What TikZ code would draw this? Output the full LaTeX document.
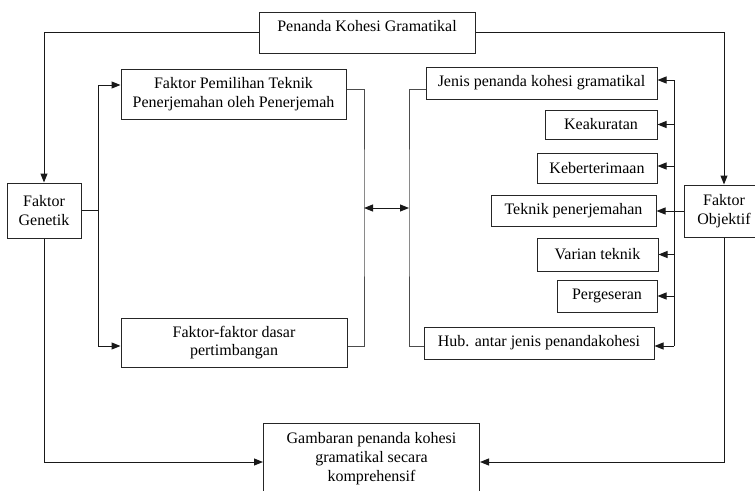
\documentclass[tikz,border=0pt]{standalone}
\usepackage{fontspec}
\setmainfont{Liberation Serif}
\usetikzlibrary{arrows.meta}
\begin{document}
\begin{tikzpicture}[x=1pt,y=-1pt,
  box/.style={draw=black!85, line width=1pt, rectangle, inner sep=2pt, align=center, font=\fontsize{16}{18.5}\selectfont, text=black},
  conn/.style={draw=black!90, line width=1pt},
  gconn/.style={draw=black!70, line width=1pt},
  arr/.style={conn, -{Triangle[length=9pt,width=7pt]}},
  darr/.style={conn, {Triangle[length=9pt,width=7pt]}-{Triangle[length=9pt,width=7pt]}}]
\useasboundingbox (0,0) rectangle (755,490);
% boxes
\node[box, minimum width=216, minimum height=41, text height=10pt, text depth=12pt] (pkg) at (367,32.5) {Penanda Kohesi Gramatikal};
\node[box, minimum width=74, minimum height=55] (gen) at (44,210.5) {Faktor\\Genetik};
\node[box, minimum width=225, minimum height=50] (fp) at (233.5,94) {Faktor Pemilihan Teknik\\Penerjemahan oleh Penerjemah};
\node[box, minimum width=226, minimum height=49] (fd) at (234,342.5) {Faktor-faktor dasar\\pertimbangan};
\node[box, minimum width=231, minimum height=32] (jenis) at (541.5,83) {Jenis penanda kohesi gramatikal};
\node[box, minimum width=112, minimum height=29] (keak) at (601,124.5) {Keakuratan};
\node[box, minimum width=120, minimum height=30] (keb) at (597,168) {Keberterimaan};
\node[box, minimum width=165, minimum height=31] (tek) at (573.5,210.5) {Teknik penerjemahan};
\node[box, minimum width=121, minimum height=33] (var) at (597.5,254.5) {Varian teknik};
\node[box, minimum width=100, minimum height=32] (perg) at (607,296) {Pergeseran};
\node[box, minimum width=230, minimum height=32] (hub) at (539,343) {Hub. antar jenis penandakohesi};
\node[box, minimum width=80, minimum height=52] (obj) at (724,211) {Faktor\\Objektif};
\node[box, anchor=north west, inner sep=0pt] (gam) at (263,423)
  {\parbox[t][80pt][t]{216pt}{\centering\vspace{9pt}Gambaran penanda kohesi\\[0.5pt]gramatikal secara\\[0.5pt]komprehensif}};
% coordinates
\coordinate (busL) at (98,210.5);
\coordinate (jL) at (364,208);
\coordinate (jR) at (409,208);
\coordinate (busR) at (674,80);
\coordinate (gy) at (0,462);
% top connectors
\draw[arr] (pkg.west) -| (gen.north);
\draw[arr] (pkg.east) -| (obj.north);
% left bus
\draw[conn] (gen.east) -- (busL);
\draw[arr] (busL) |- ([yshift=9pt]fp.west);
\draw[arr] (busL) |- ([yshift=-3.5pt]fd.west);
% left bracket
\draw[gconn] ([yshift=5pt]fp.east) -| (jL) |- ([yshift=-3.5pt]fd.east);
% right bracket
\draw[gconn] ([yshift=-6pt]jenis.west) -| (jR) |- ([yshift=-3pt]hub.west);
\draw[darr] (jL) -- (jR);
% right bus
\draw[conn] (busR) -- ([yshift=-3pt]busR |- hub.east);
\draw[arr] (busR) -- ([yshift=3pt]jenis.east);
\draw[arr] (busR |- keak.east) -- (keak.east);
\draw[arr] ([yshift=2pt]busR |- keb.east) -- ([yshift=2pt]keb.east);
\draw[arr] (busR |- var.east) -- (var.east);
\draw[arr] (busR |- perg.east) -- (perg.east);
\draw[arr] ([yshift=-3pt]busR |- hub.east) -- ([yshift=-3pt]hub.east);
\draw[arr] (obj.west) -- (obj.west -| tek.east);
% bottom connectors
\draw[arr] (gen.south) |- (gam.west |- gy);
\draw[arr] (obj.south) |- (gam.east |- gy);
\end{tikzpicture}
\end{document}
